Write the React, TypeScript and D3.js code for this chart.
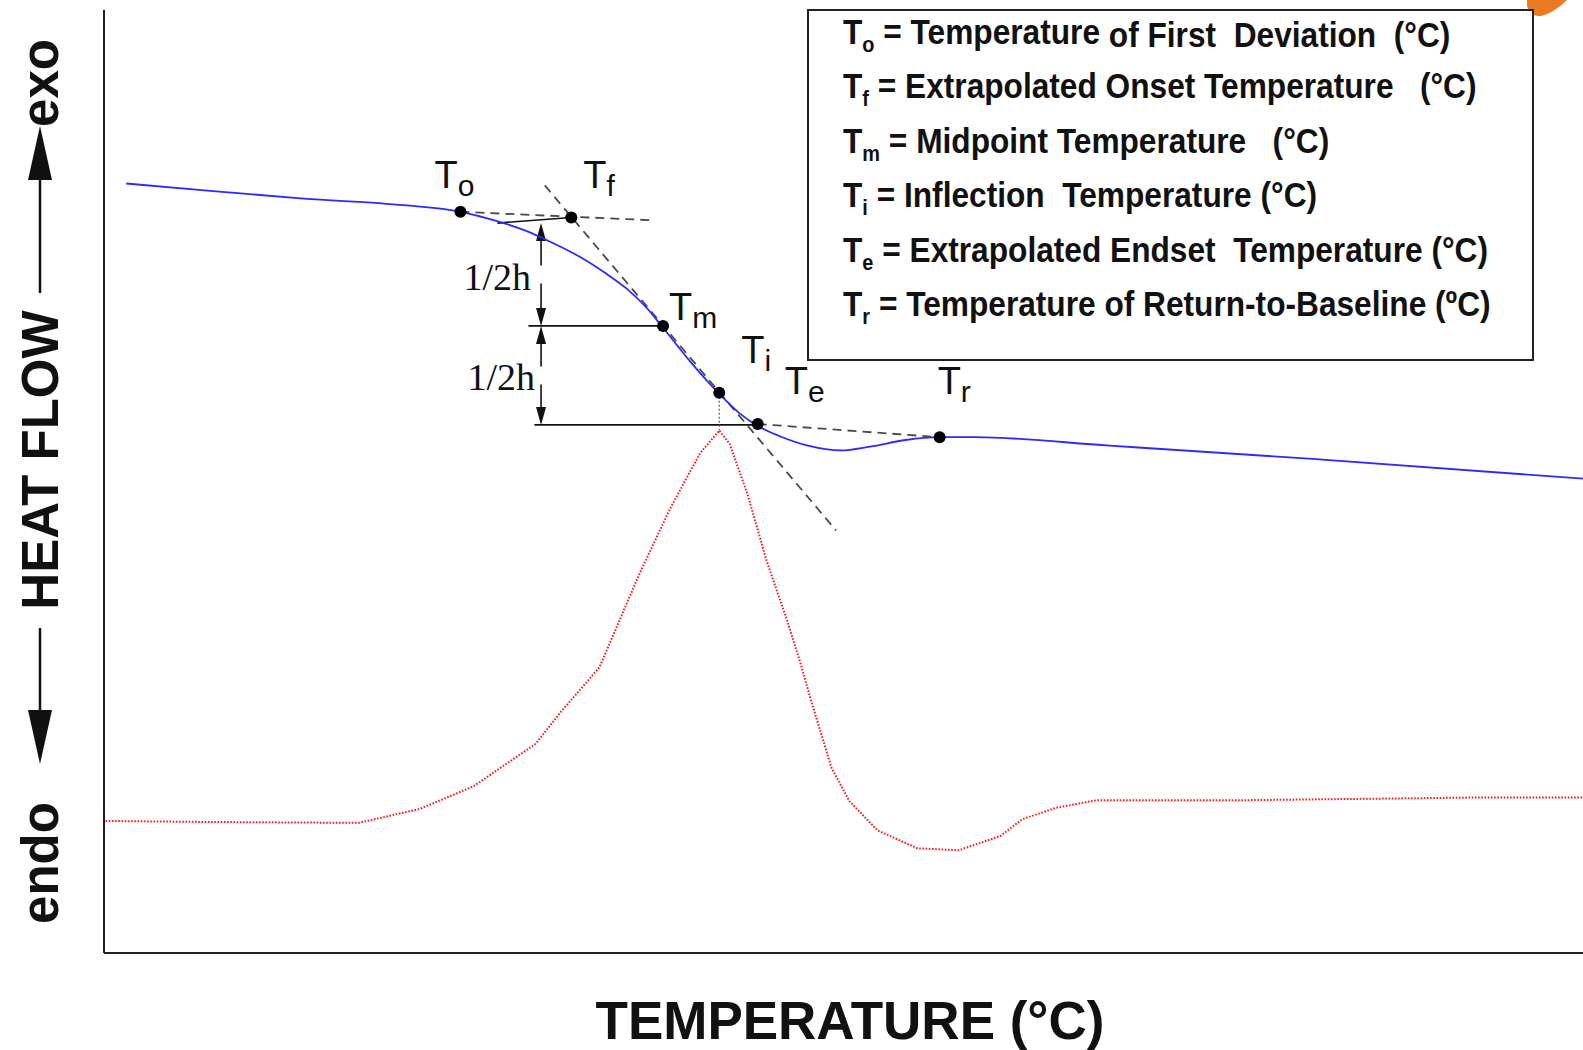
import * as React from 'react';
import { scaleLinear, line, curveMonotoneX, curveLinear } from 'd3';

// heat flow trace (blue), temperature in arbitrary units across the plot
const hfTemp = [1.5, 6.6, 13.5, 20.3, 24.1, 26.4, 28.5, 30.2, 32.2, 33.9, 35.3, 36.7, 37.8, 39.6, 41.6, 43.0, 44.2, 45.7, 47.6, 49.8, 51.8, 54.2, 56.5, 58.9, 68.0, 81.7, 100];
const hfValue = [81.6, 80.9, 80.0, 79.3, 78.6, 77.7, 76.6, 75.4, 73.8, 72.1, 70.5, 68.4, 66.3, 62.8, 59.3, 57.2, 55.9, 54.8, 53.8, 53.3, 53.7, 54.4, 54.7, 54.7, 53.8, 52.4, 50.3];

// derivative trace (red dotted)
const dTemp = [0.1, 6.6, 17.2, 21.4, 25.0, 29.2, 30.8, 33.5, 36.2, 38.3, 40.3, 41.6, 42.3, 43.5, 44.8, 46.2, 47.1, 47.8, 49.2, 50.4, 52.3, 55.0, 57.8, 60.6, 62.1, 64.4, 67.1, 76.9, 93.5, 100];
const dValue = [14.0, 13.9, 13.8, 15.3, 17.7, 22.2, 25.4, 30.3, 40.2, 47.2, 53.0, 55.4, 54.0, 48.7, 41.6, 35.2, 30.7, 26.8, 19.6, 16.1, 13.0, 11.1, 10.9, 12.4, 14.2, 15.4, 16.2, 16.2, 16.5, 16.5];

// characteristic temperatures
const eventSub = ['o', 'f', 'm', 'i', 'e', 'r'];
const eventTemp = [24.1, 31.6, 37.8, 41.6, 44.2, 56.5];
const eventValue = [78.6, 78.0, 66.5, 59.4, 56.1, 54.7];

// construction lines
const onsetBaseTemp = [24.1, 37.1];
const onsetBaseValue = [78.6, 77.7];
const tangentTemp = [29.8, 49.5];
const tangentValue = [81.4, 44.8];
const endBaseTemp = [44.2, 56.5];
const endBaseValue = [56.1, 54.7];
const topLevelTemp = [26.6, 31.6];
const topLevelValue = [77.4, 78.0];
const midLevelTemp = [28.7, 37.8];
const lowLevelTemp = [29.1, 44.2];
const halfArrowTemp = 29.55;
const halfLevels = [77.4, 66.5, 56.0];
const peakValue = 55.4;

const legendSub = ['o', 'f', 'm', 'i', 'e', 'r'];
const legendText = [
  'Temperature of First  Deviation  (°C)',
  'Extrapolated Onset Temperature   (°C)',
  'Midpoint Temperature   (°C)',
  'Inflection  Temperature (°C)',
  'Extrapolated Endset  Temperature (°C)',
  'Temperature of Return-to-Baseline (ºC)',
];

// label offsets from each point (px)
const labelOffsets = [[-26, -24], [12, -29], [6, -6], [22, -30], [27, -30], [-2, -43]];

const zip = (a: number[], b: number[]) => a.map((v, i) => [v, b[i]] as [number, number]);

const App = () => {
  const x = scaleLinear().domain([0, 100]).range([104, 1583]);
  const y = scaleLinear().domain([0, 100]).range([953, 10]);

  const smooth = line<[number, number]>().x(d => x(d[0])).y(d => y(d[1])).curve(curveMonotoneX);
  const straight = line<[number, number]>().x(d => x(d[0])).y(d => y(d[1])).curve(curveLinear);

  const dashed = { fill: 'none', stroke: '#4a4a4a', strokeWidth: 1.8, strokeDasharray: '9 6' };
  const solid = { fill: 'none', stroke: '#111', strokeWidth: 1.6 };
  const sans = '"Liberation Sans", Arial, sans-serif';

  const ax = x(halfArrowTemp);
  const head = (tip: number, dir: number) =>
    `${ax},${tip} ${ax - 5},${tip - dir * 18} ${ax + 5},${tip - dir * 18}`;

  return (
    <svg width={1583} height={1050} style={{ position: 'absolute', left: 0, top: 0, background: '#fff' }}>
      {/* orange corner shape */}
      <path d="M1527,0 L1567,0 Q1554,13 1541,16 Q1530,17 1527,6 Z" fill="#ec7a22" />

      {/* axes */}
      <line x1={x(0)} x2={x(0)} y1={y(100)} y2={y(0)} stroke="#222" strokeWidth={2} />
      <line x1={x(0)} x2={x(100)} y1={y(0)} y2={y(0)} stroke="#222" strokeWidth={2} />

      {/* construction lines */}
      <path d={straight(zip(onsetBaseTemp, onsetBaseValue)) || ''} style={dashed} />
      <path d={straight(zip(tangentTemp, tangentValue)) || ''} style={dashed} />
      <path d={straight(zip(endBaseTemp, endBaseValue)) || ''} style={dashed} />
      <path d={straight(zip(topLevelTemp, topLevelValue)) || ''} style={solid} />
      <path d={straight(zip(midLevelTemp, [eventValue[2], eventValue[2]])) || ''} style={solid} />
      <path d={straight(zip(lowLevelTemp, [halfLevels[2], halfLevels[2]])) || ''} style={solid} />
      <line x1={x(eventTemp[3])} x2={x(eventTemp[3])} y1={y(eventValue[3])} y2={y(peakValue)}
        stroke="#666" strokeWidth={1.3} strokeDasharray="2 2" />

      {/* half-height arrows */}
      {[0, 1].map(k => {
        const yt = y(halfLevels[k]);
        const yb = y(halfLevels[k + 1]);
        const mid = (yt + yb) / 2;
        return (
          <g key={k}>
            <line x1={ax} x2={ax} y1={yt + 4} y2={mid - 9} stroke="#111" strokeWidth={1.6} />
            <line x1={ax} x2={ax} y1={mid + 9} y2={yb - 4} stroke="#111" strokeWidth={1.6} />
            <polygon points={head(yt, -1)} fill="#111" />
            <polygon points={head(yb, 1)} fill="#111" />
            <text x={ax - (k === 0 ? 10 : 6)} y={mid + 15} textAnchor="end"
              fontFamily='"Liberation Serif", "Times New Roman", serif' fontSize={38} fill="#111">1/2h</text>
          </g>
        );
      })}

      {/* derivative */}
      <path d={straight(zip(dTemp, dValue)) || ''} fill="none" stroke="#ff1a1a" strokeWidth={2} strokeDasharray="1.6 1.6" />
      {/* heat flow */}
      <path d={smooth(zip(hfTemp, hfValue)) || ''} fill="none" stroke="#2b2bff" strokeWidth={1.8} />

      {/* points and labels */}
      {eventSub.map((s, i) => (
        <g key={s}>
          <circle cx={x(eventTemp[i])} cy={y(eventValue[i])} r={6} fill="#000" />
          <text x={x(eventTemp[i]) + labelOffsets[i][0]} y={y(eventValue[i]) + labelOffsets[i][1]}
            fontFamily={sans} fontSize={38} fill="#111">
            T<tspan dy={8} fontSize={30}>{s}</tspan>
          </text>
        </g>
      ))}

      {/* legend box */}
      <rect x={808} y={10} width={725} height={350} fill="#fff" stroke="#222" strokeWidth={2} />
      <g transform="translate(843,0) scale(0.905,1) translate(-843,0)">
        {legendSub.map((s, i) => {
          const base = 44 + i * 54.5;
          const txt = legendText[i];
          const sp = txt.indexOf(' ');
          return (
            <text key={s} x={843} y={base} fontFamily={sans} fontWeight="bold" fontSize={35} fill="#111"
              style={{ whiteSpace: 'pre' }}>
              T<tspan dy={8} fontSize={22}>{s}</tspan>
              <tspan dy={-8}>{' = '}</tspan>
              {i === 0 ? (
                <>
                  <tspan>{txt.slice(0, sp)}</tspan>
                  <tspan dy={3}>{txt.slice(sp)}</tspan>
                </>
              ) : (
                <tspan>{txt}</tspan>
              )}
            </text>
          );
        })}
      </g>

      {/* y axis label */}
      <g fontFamily={sans} fontSize={51} fontWeight="bold" fill="#111">
        <text transform="translate(58,83) rotate(-90)" textAnchor="middle">exo</text>
        <text transform="translate(58,460) rotate(-90)" textAnchor="middle">HEAT FLOW</text>
        <text transform="translate(58,863) rotate(-90)" textAnchor="middle">endo</text>
      </g>
      <line x1={40} x2={40} y1={293} y2={176} stroke="#111" strokeWidth={2.5} />
      <polygon points="40,126 28,180 52,180" fill="#111" />
      <line x1={40} x2={40} y1={628} y2={714} stroke="#111" strokeWidth={2.5} />
      <polygon points="40,764 28,710 52,710" fill="#111" />

      {/* x axis label */}
      <text x={850} y={1039} textAnchor="middle" fontFamily={sans} fontWeight="bold" fontSize={53} fill="#111">
        TEMPERATURE (°C)
      </text>
    </svg>
  );
};

export default App;
